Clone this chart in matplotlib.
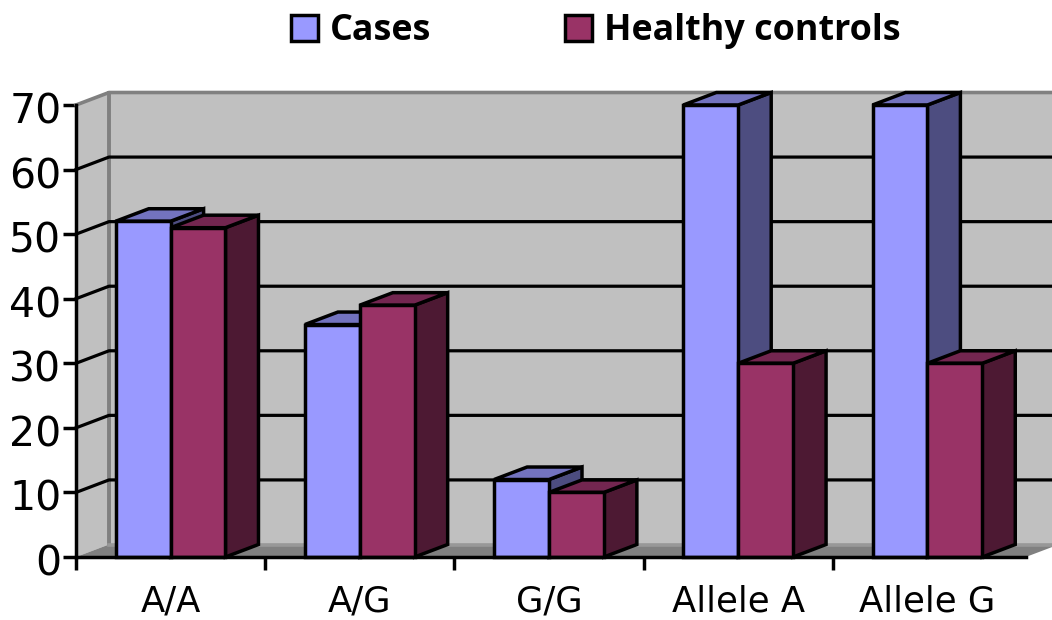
import matplotlib
matplotlib.use('Agg')
import matplotlib.pyplot as plt
from matplotlib.patches import Polygon
from matplotlib.transforms import ScaledTranslation

categories = ['A/A', 'A/G', 'G/G', 'Allele A', 'Allele G']
cases = [52, 36, 12, 70, 70]
controls = [51, 39, 10, 30, 30]
y_ticks = [0, 10, 20, 30, 40, 50, 60, 70]

plt.rcParams['font.family'] = ['DejaVu Sans']

W, H = 1052, 620
fig = plt.figure(figsize=(W / 100, H / 100), dpi=100, facecolor='white')

# front plane of the fake 3D box
left, right, top, bottom = 76, 1022, 105, 557
ax = fig.add_axes([left / W, 1 - bottom / H, (right - left) / W, (bottom - top) / H])
ax.set_xlim(-0.5, 4.5)
ax.set_ylim(0, 70)
ax.patch.set_visible(False)

# depth in data units
dx = 33 * 5 / (right - left)
dy = 12.5 * 70 / (bottom - top)
floor_end = 4.52
x_end = floor_end + dx
lw = 2.5
wall_edge = '#808080'


def poly(pts, color, z, edge='black', width=lw):
    ax.add_patch(Polygon(pts, closed=True, facecolor=color, edgecolor=edge,
                         linewidth=width, zorder=z, clip_on=False, joinstyle='miter'))


# walls and floor
poly([(-0.5 + dx, dy), (x_end, dy), (x_end, 70 + dy), (-0.5 + dx, 70 + dy)], '#c0c0c0', 1, edge='none')
poly([(-0.5, 0), (-0.5 + dx, dy), (-0.5 + dx, 70 + dy), (-0.5, 70)], '#c0c0c0', 1, edge='none')
poly([(-0.5, 0), (-0.5 + dx, dy), (x_end, dy), (floor_end, 0)], '#808080', 1.5, edge='none')
ax.plot([-0.5, -0.5 + dx, x_end], [70, 70 + dy, 70 + dy], color=wall_edge, lw=2.6, zorder=1.6, clip_on=False)
ax.plot([-0.5 + dx, -0.5 + dx], [dy, 70 + dy], color=wall_edge, lw=2.8, zorder=1.6, clip_on=False)
ax.plot([-0.5 + dx, x_end], [dy, dy], color='#989898', lw=2.6, zorder=1.6, clip_on=False)

for t in y_ticks[1:-1]:
    ax.plot([-0.5, -0.5 + dx, x_end], [t, t + dy, t + dy], color='black', lw=2.3, zorder=1.7, clip_on=False)


def bar3d(x0, x1, v, front, top_c, side, z):
    poly([(x1, 0), (x1 + dx, dy), (x1 + dx, v + dy), (x1, v)], side, z)
    poly([(x0, v), (x0 + dx, v + dy), (x1 + dx, v + dy), (x1, v)], top_c, z)
    poly([(x0, 0), (x1, 0), (x1, v), (x0, v)], front, z + 0.1)


bw = 0.29
for i in range(len(categories)):
    bar3d(i - bw, i, cases[i], '#9999ff', '#7373bf', '#4d4d80', 3 + i)
    bar3d(i, i + bw, controls[i], '#993366', '#732650', '#4d1933', 3.5 + i)

# axis lines
for s in ['top', 'right']:
    ax.spines[s].set_visible(False)
for s in ['left', 'bottom']:
    ax.spines[s].set_linewidth(lw)
    ax.spines[s].set_zorder(20)
ax.spines['bottom'].set_bounds(-0.5, floor_end)

ax.set_yticks(y_ticks)
ax.set_xticks([i - 0.5 for i in range(5)])
ax.set_xticklabels([])
ax.set_xticks(range(5), categories, minor=True)
ax.tick_params(axis='both', which='major', length=9.5, width=lw, direction='out')
ax.tick_params(axis='x', which='minor', length=0, labelsize=25.5, pad=20)
ax.tick_params(axis='y', labelsize=29.5, pad=1)
# tick digits sit a bit under the tick marks
shift = ScaledTranslation(0, -3 / 100, fig.dpi_scale_trans)
for lab in ax.get_yticklabels():
    lab.set_transform(lab.get_transform() + shift)

# legend
leg = [('Cases', '#9999ff', 291, 330), ('Healthy controls', '#993366', 565, 604)]
for label, color, px, tx in leg:
    fig.patches.append(plt.Rectangle((px / W, 1 - 41 / H), 27 / W, 26 / H, transform=fig.transFigure,
                                     facecolor=color, edgecolor='black', linewidth=lw))
    fig.text(tx / W, 1 - 31 / H, label, fontsize=25.8, fontweight='bold', family='Open Sans',
             va='center', ha='left')

fig.savefig('out.png', dpi=100)
